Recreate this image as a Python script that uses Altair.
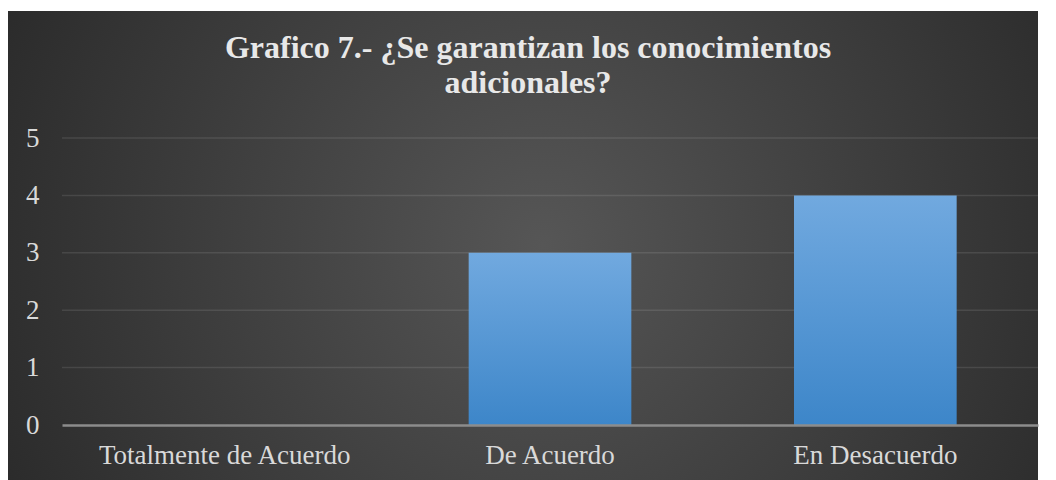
import altair as alt
import pandas as pd

categories = ["Totalmente de Acuerdo", "De Acuerdo", "En Desacuerdo"]
values = [0, 3, 4]
grid_values = [1, 2, 3, 4, 5]
y_ticks = [0, 1, 2, 3, 4, 5]
title_lines = ["Grafico 7.- ¿Se garantizan los conocimientos", "adicionales?"]

W, H = 976, 287
PAD = {"left": 62, "top": 138, "right": 18, "bottom": 55}

df = pd.DataFrame({"cat": categories, "val": values})
grid_df = pd.DataFrame({"g": grid_values})
bg_df = pd.DataFrame({"k": [0]})

y_axis = alt.Axis(title=None, values=y_ticks, grid=False, domain=False,
                  ticks=False, labelFont="Liberation Serif", labelFontSize=27,
                  labelColor="#d9d9d9", labelPadding=23, zindex=1)

bg = alt.Chart(bg_df).mark_rect(
    color=alt.RadialGradient(
        gradient="radial", x1=0.52, y1=0.5, r1=0, x2=0.52, y2=0.5, r2=0.64,
        stops=[alt.GradientStop(offset=0, color="#565656"),
               alt.GradientStop(offset=1, color="#262626")]
    )
).encode(
    x=alt.value(-54), x2=alt.value(W + 0),
    y=alt.value(-127), y2=alt.value(H + PAD["bottom"])
)

grid = alt.Chart(grid_df).mark_rule(color="#ffffff", opacity=0.1, strokeWidth=1.5).encode(
    y=alt.Y("g:Q", scale=alt.Scale(domain=[0, 5]), axis=y_axis)
)

bars = alt.Chart(df).mark_bar(
    color=alt.LinearGradient(
        gradient="linear", x1=0, y1=0, x2=0, y2=1,
        stops=[alt.GradientStop(offset=0, color="#71a9df"),
               alt.GradientStop(offset=1, color="#3d86c9")]
    )
).encode(
    x=alt.X("cat:N", sort=categories,
            scale=alt.Scale(paddingInner=0.5, paddingOuter=0.25),
            axis=alt.Axis(title=None, labelAngle=0, ticks=False, domain=True,
                          domainColor="#8c8c8c", domainWidth=2.5, labelLimit=500,
                          labelFont="Liberation Serif", labelFontSize=27,
                          labelColor="#d9d9d9", labelPadding=17, zindex=1)),
    y=alt.Y("val:Q", scale=alt.Scale(domain=[0, 5]), axis=y_axis)
)

chart = alt.layer(bg, grid, bars).properties(
    width=W, height=H,
    autosize=alt.AutoSizeParams(type="none"),
    padding=PAD,
    background="white",
    title=alt.TitleParams(
        text=title_lines, font="Liberation Serif", fontSize=32, fontWeight="bold",
        color="#e8e8e8", anchor="middle", offset=22, lineHeight=35, dx=-22, dy=111
    )
).configure_view(stroke=None)

chart.save("out.html", embed_options={"renderer": "svg", "actions": False})
